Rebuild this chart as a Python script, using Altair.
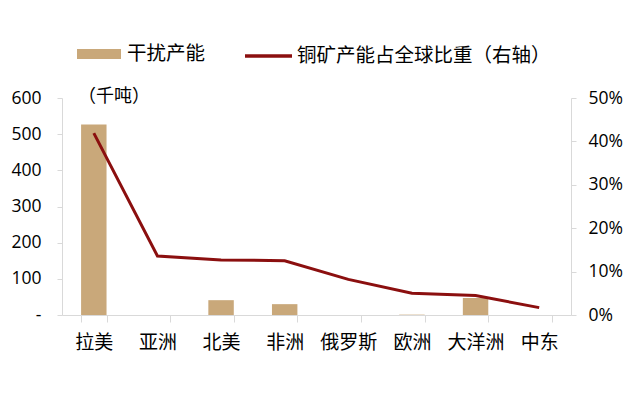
import altair as alt
import pandas as pd

regions = ["拉美", "亚洲", "北美", "非洲", "俄罗斯", "欧洲", "大洋洲", "中东"]
disrupted = [527, 0, 41, 30, 0, 1, 47, 0]
share = [0.419, 0.136, 0.127, 0.125, 0.082, 0.050, 0.045, 0.017]

df = pd.DataFrame({"region": regions, "disrupted": disrupted, "share": share,
                   "bar_label": "干扰产能", "line_label": "铜矿产能占全球比重（右轴）"})

CJK = "Noto Sans CJK SC"
NUM = "Open Sans"
BAR_COLOR = "#C9A87A"
LINE_COLOR = "#8B0F0F"
AXIS_COLOR = "#D9D9D9"

x_enc = alt.X("region:N", sort=regions, title=None,
              scale=alt.Scale(paddingInner=0.6, paddingOuter=0.3),
              axis=alt.Axis(labelAngle=0, labelFont=CJK, labelFontSize=19, labelColor="#000000",
                            tickBand="extent", tickSize=7, tickColor=AXIS_COLOR,
                            domainColor=AXIS_COLOR, labelPadding=11, grid=False))

bars = alt.Chart(df).mark_bar(color=BAR_COLOR).encode(
    x=x_enc,
    y=alt.Y("disrupted:Q", title=None,
            scale=alt.Scale(domain=[0, 600], nice=False),
            axis=alt.Axis(values=[0, 100, 200, 300, 400, 500, 600],
                          labelExpr="datum.value == 0 ? '-       ' : datum.label",
                          labelFont=NUM, labelFontSize=17.5, labelColor="#000000",
                          tickSize=5, tickColor=AXIS_COLOR, domainColor=AXIS_COLOR,
                          labelPadding=16, grid=False)),
    fill=alt.Fill("bar_label:N", title=None,
                  scale=alt.Scale(range=[BAR_COLOR]),
                  legend=alt.Legend(orient="none", legendX=15, legendY=-66,
                                    symbolType="M-1,-0.227L1,-0.227L1,0.227L-1,0.227Z",
                                    symbolSize=1936, symbolStrokeWidth=0,
                                    labelFont=CJK, labelFontSize=19.5, labelColor="#000000",
                                    labelOffset=6, labelLimit=0, padding=0)),
)

line = alt.Chart(df).mark_line(color=LINE_COLOR, strokeWidth=3).encode(
    x=alt.X("region:N", sort=regions),
    y=alt.Y("share:Q", title=None,
            scale=alt.Scale(domain=[0, 0.5], nice=False),
            axis=alt.Axis(orient="right", format=".0%", values=[0, 0.1, 0.2, 0.3, 0.4, 0.5],
                          labelFont=NUM, labelFontSize=17.5, labelColor="#000000",
                          tickSize=5, tickColor=AXIS_COLOR, domainColor=AXIS_COLOR,
                          labelPadding=12, grid=False)),
    stroke=alt.Stroke("line_label:N", title=None,
                      scale=alt.Scale(range=[LINE_COLOR]),
                      legend=alt.Legend(orient="none", legendX=181, legendY=-67.5,
                                        symbolType="stroke", symbolSize=2209,
                                        symbolStrokeWidth=3.5,
                                        labelFont=CJK, labelFontSize=19.5, labelColor="#000000",
                                        labelOffset=3, labelLimit=0, padding=0)),
)

unit = alt.Chart(pd.DataFrame({"t": ["（千吨）"]})).mark_text(
    font=CJK, fontSize=18, align="left", baseline="middle", color="#000000"
).encode(text="t:N", x=alt.value(16), y=alt.value(-1))

chart = alt.layer(bars, line, unit).resolve_scale(
    y="independent", fill="independent", stroke="independent"
).properties(
    width=509, height=217,
    autosize=alt.AutoSizeParams(type="none"),
    padding={"left": 54, "top": 90, "right": 52, "bottom": 78},
    background="#FFFFFF",
).configure_view(stroke=None)

chart.save("out.html", embed_options={"renderer": "svg", "actions": False})
